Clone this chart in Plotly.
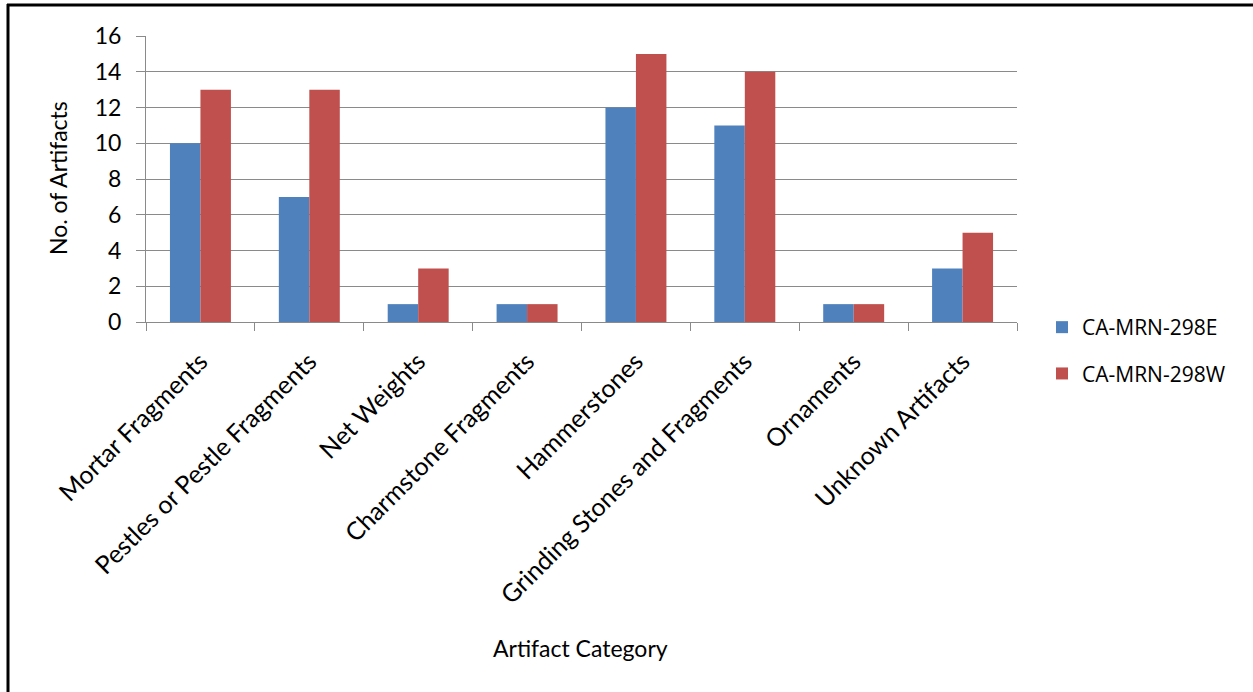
import plotly.graph_objects as go

categories = [
    "Mortar Fragments",
    "Pestles or Pestle Fragments",
    "Net Weights",
    "Charmstone Fragments",
    "Hammerstones",
    "Grinding Stones and Fragments",
    "Ornaments",
    "Unknown Artifacts",
]
east_counts = [10, 7, 1, 1, 12, 11, 1, 3]
west_counts = [13, 13, 3, 1, 15, 14, 1, 5]
y_ticks = [0, 2, 4, 6, 8, 10, 12, 14, 16]

W, H = 1253, 692
L, R, T, B = 146, 1017, 36, 322  # plot area in pixels


def px_x(p):
    return (p - L) / (R - L)


def px_y(p):
    return (B - p) / (B - T)


FONT = "Lato"
GRID = "#8a8a8a"

fig = go.Figure()
fig.add_trace(go.Bar(x=categories, y=east_counts, name="CA-MRN-298E",
                     marker=dict(color="#4F81BD", line=dict(width=0)),
                     legendgroup="e"))
fig.add_trace(go.Bar(x=categories, y=west_counts, name="CA-MRN-298W",
                     marker=dict(color="#C0504D", line=dict(width=0)),
                     legendgroup="w"))

fig.update_layout(
    width=W, height=H,
    margin=dict(l=L, r=W - R, t=T, b=H - B, autoexpand=False),
    paper_bgcolor="white", plot_bgcolor="white",
    barmode="group", bargap=0.44, bargroupgap=0,
    font=dict(family=FONT, color="black"),
    legend=dict(x=px_x(1042), y=px_y(307), xanchor="left", yanchor="top",
                font=dict(family="Open Sans", size=21, color="black"),
                traceorder="grouped", tracegroupgap=16,
                itemwidth=30, bgcolor="rgba(0,0,0,0)"),
    xaxis=dict(
        type="category", tickson="boundaries", ticks="outside", ticklen=8,
        tickcolor=GRID, showline=True, linecolor=GRID, linewidth=1,
        tickangle=-45, tickfont=dict(family=FONT, size=25),
        ticklabelstandoff=14,
        showgrid=False, automargin=False,
    ),
    yaxis=dict(
        range=[0, 16], tickvals=y_ticks, ticks="outside", ticklen=9,
        tickcolor=GRID, showline=True, linecolor=GRID, linewidth=1,
        showgrid=True, gridcolor=GRID, gridwidth=1,
        tickfont=dict(family=FONT, size=23), ticklabelstandoff=10,
        zeroline=False, automargin=False,
    ),
    annotations=[
        dict(text="No. of Artifacts", x=px_x(58), y=px_y(178), xref="paper",
             yref="paper", xanchor="center", yanchor="middle",
             showarrow=False, textangle=-90,
             font=dict(family=FONT, size=23)),
        dict(text="Artifact Category", x=px_x(580), y=px_y(648), xref="paper",
             yref="paper", xanchor="center", yanchor="middle",
             showarrow=False, font=dict(family=FONT, size=23)),
    ],
    shapes=[
        dict(type="line", xref="paper", yref="paper",
             x0=px_x(8), x1=px_x(8), y0=px_y(4), y1=px_y(700),
             line=dict(color="black", width=3)),
        dict(type="line", xref="paper", yref="paper",
             x0=px_x(7), x1=px_x(1260), y0=px_y(5), y1=px_y(5),
             line=dict(color="black", width=3)),
    ],
)

fig.write_html("out.html")
